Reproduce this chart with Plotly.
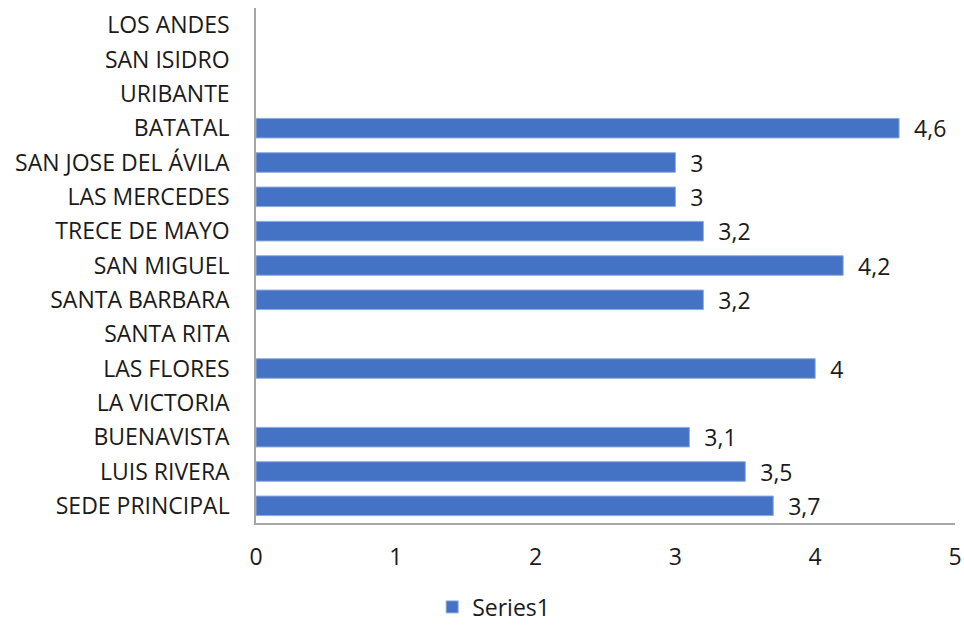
import plotly.graph_objects as go

categories = ["LOS ANDES", "SAN ISIDRO", "URIBANTE", "BATATAL", "SAN JOSE DEL ÁVILA",
              "LAS MERCEDES", "TRECE DE MAYO", "SAN MIGUEL", "SANTA BARBARA",
              "SANTA RITA", "LAS FLORES", "LA VICTORIA", "BUENAVISTA",
              "LUIS RIVERA", "SEDE PRINCIPAL"]
values = [None, None, None, 4.6, 3, 3, 3.2, 4.2, 3.2, None, 4, None, 3.1, 3.5, 3.7]
x_ticks = [0, 1, 2, 3, 4, 5]

# etiquetas con coma decimal, vacías donde no hay dato
labels = ["" if v is None else "  " + ("%g" % v).replace(".", ",") for v in values]

FONT = "'Open Sans', sans-serif"
FS = 23

fig = go.Figure(go.Bar(
    x=values,
    y=categories,
    orientation="h",
    name="Series1",
    marker=dict(color="#4472C4", line=dict(color="#8FAADC", width=1)),
    text=labels,
    textposition="outside",
    constraintext="none",
    textfont=dict(size=FS, color="#1a1a1a", family=FONT),
    cliponaxis=False,
))

fig.update_layout(
    width=964, height=626,
    margin=dict(l=256, r=9, t=8, b=103, autoexpand=False),
    paper_bgcolor="white", plot_bgcolor="white",
    font=dict(family=FONT, size=FS, color="#1a1a1a"),
    bargap=0.43,
    showlegend=True,
    legend=dict(orientation="h", x=0.34, xanchor="center",
                y=-0.163, yanchor="middle", font=dict(size=FS)),
    xaxis=dict(range=[0, 5], tickvals=x_ticks, showgrid=False, zeroline=False,
               showline=True, linecolor="#A6A6A6", linewidth=1.5,
               ticks="", ticklabelstandoff=13),
    yaxis=dict(autorange="reversed", showgrid=False, zeroline=False,
               showline=True, linecolor="#A6A6A6", linewidth=1.5,
               ticks="", ticklabelstandoff=20),
)

# sin margen en el body para que la figura ocupe la ventana exacta
fig.write_html("out.html", config={"displayModeBar": False},
               post_script="document.body.style.margin='0';"
                           "document.body.style.overflow='hidden';")
